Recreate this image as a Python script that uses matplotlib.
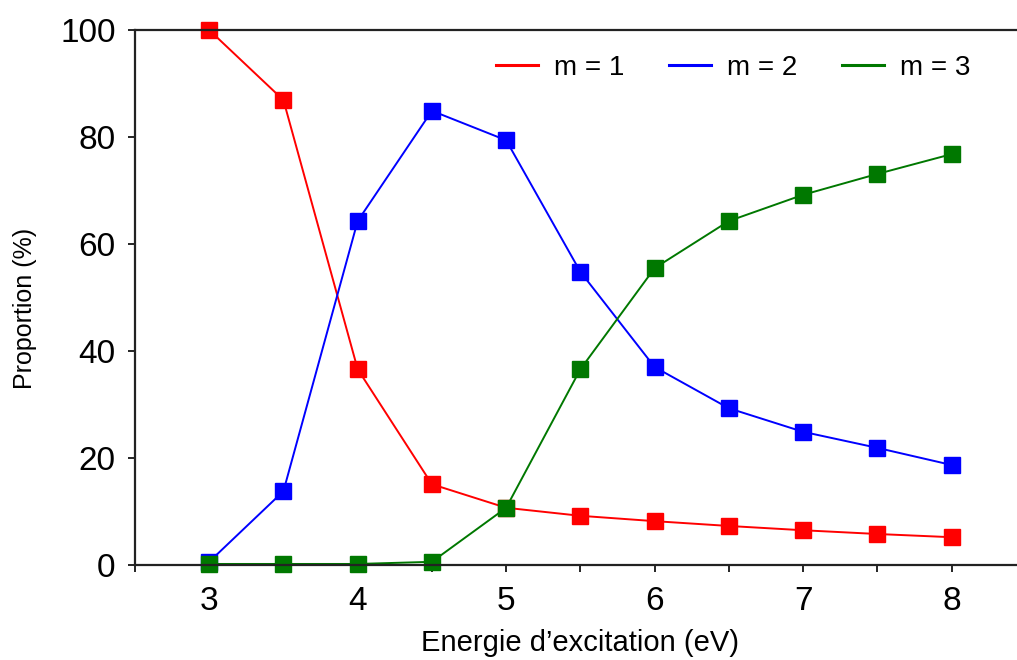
import matplotlib
matplotlib.use('Agg')
import matplotlib.pyplot as plt
from matplotlib.ticker import MultipleLocator

plt.rcParams['font.family'] = ['Liberation Sans', 'DejaVu Sans']

# Data
energy = [3, 3.5, 4, 4.5, 5, 5.5, 6, 6.5, 7, 7.5, 8]
m1 = [100, 86.9, 36.6, 15.1, 10.7, 9.2, 8.2, 7.3, 6.5, 5.8, 5.2]
m2 = [0.6, 13.8, 64.3, 84.9, 79.4, 54.8, 37.0, 29.3, 24.9, 21.9, 18.7]
m3 = [0.2, 0.2, 0.2, 0.6, 10.7, 36.6, 55.5, 64.3, 69.2, 73.1, 76.8]
labels = ['m = 1', 'm = 2', 'm = 3']
colors = ['#ff0000', '#0000ff', '#007800']

fig = plt.figure(figsize=(10.17, 6.6), dpi=100)
ax = fig.add_axes([0.1327, 0.1439, 0.876, 0.8106])

for ys, lab, c in zip([m1, m2, m3], labels, colors):
    ax.plot(energy, ys, color=c, lw=1.4, marker='s', ms=11.5,
            mec=c, mfc=c, label=lab, clip_on=False)

ax.set_xlim(2.5, 8.5)
ax.set_ylim(0, 100)
ax.xaxis.set_major_locator(MultipleLocator(1))
ax.xaxis.set_minor_locator(MultipleLocator(0.5))
ax.yaxis.set_major_locator(MultipleLocator(20))

ax.tick_params(axis='both', which='major', labelsize=24, length=5, width=1.2,
               direction='out')
ax.tick_params(axis='x', which='major', pad=10)
ax.tick_params(axis='y', which='major', pad=9)
ax.tick_params(axis='x', which='minor', length=5, width=1.2, direction='out')

for s in ['left', 'bottom', 'top']:
    ax.spines[s].set_linewidth(1.6)
    ax.spines[s].set_color('#222222')
ax.spines['right'].set_visible(False)

ax.set_xlabel('Energie d\u2019excitation (eV)', fontsize=21, labelpad=9)
ax.set_ylabel('Proportion (%)', fontsize=18)
ax.yaxis.set_label_coords(-0.11, 0.48)

leg = ax.legend(handles=[plt.Line2D([], [], color=c, lw=2.2) for c in colors],
                labels=labels, loc='upper right', bbox_to_anchor=(0.96, 0.99),
                ncol=3, frameon=False, fontsize=20, handlelength=1.5,
                columnspacing=1.6, handletextpad=0.6, borderaxespad=0.3)

plt.savefig('out.png', dpi=100)
plt.close()
